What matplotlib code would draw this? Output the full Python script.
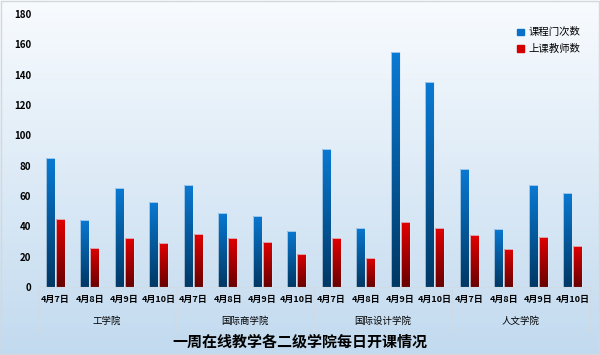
import numpy as np
import matplotlib.pyplot as plt
from matplotlib.colors import LinearSegmentedColormap
from matplotlib.lines import Line2D

plt.rcParams['font.family'] = ['Noto Sans CJK SC', 'DejaVu Sans']

# data
colleges = ['工学院', '国际商学院', '国际设计学院', '人文学院']
dates = ['4月7日', '4月8日', '4月9日', '4月10日']
courses = [85, 44, 65, 56, 67, 49, 47, 37, 91, 39, 155, 135, 78, 38, 67, 62]
teachers = [45, 26, 32, 29, 35, 32, 30, 22, 32, 19, 43, 39, 34, 25, 33, 27]
series_names = ['课程门次数', '上课教师数']

fig = plt.figure(figsize=(6, 3.55), dpi=100)

# background gradient
bg = fig.add_axes([0, 0, 1, 1], zorder=-10)
bg_cmap = LinearSegmentedColormap.from_list('bg', ['#c2daef', '#f8fbfe'])
bg.imshow(np.linspace(0, 1, 256).reshape(-1, 1), cmap=bg_cmap, aspect='auto',
          origin='lower', extent=(0, 1, 0, 1))
bg.set_xlim(0, 1)
bg.set_ylim(0, 1)
bg.axis('off')
bg.add_patch(plt.Rectangle((0.002, 0.003), 0.996, 0.994, fill=False,
                           edgecolor='#d4d8dc', lw=1))

ax = fig.add_axes([0.0633, 0.1915, 0.92, 0.769])
ax.patch.set_alpha(0)

blue_cmap = LinearSegmentedColormap.from_list('b', ['#003864', '#0a7bd6'])
red_cmap = LinearSegmentedColormap.from_list('r', ['#680000', '#e80000'])

x = np.arange(len(courses))
w = 0.25
off = 0.145
grad = np.linspace(0, 1, 256).reshape(-1, 1)
for vals, dx, cmap in [(courses, -off, blue_cmap), (teachers, off, red_cmap)]:
    bars = ax.bar(x + dx, vals, width=w, color='none', edgecolor='#dce9f6',
                  linewidth=0.5, zorder=3)
    for b in bars:
        x0 = b.get_x()
        h = b.get_height()
        im = ax.imshow(grad, cmap=cmap, aspect='auto', origin='lower',
                       extent=(x0 - 0.05, x0 + b.get_width() + 0.05, 0, h + 2),
                       zorder=2)
        im.set_clip_path(b)

ax.set_xlim(-0.5, len(courses) - 0.5)
ax.set_ylim(0, 180)
ax.set_yticks(range(0, 181, 20))
ax.tick_params(axis='y', length=0, labelsize=7, pad=5)
for t in ax.get_yticklabels():
    t.set_fontweight('bold')
ax.set_xticks([])
for s in ax.spines.values():
    s.set_visible(False)

# category axis
trans = ax.get_xaxis_transform()
sep_col = '#cfdbe6'
ax.add_line(Line2D([-0.5, len(courses) - 0.5], [0, 0], color=sep_col, lw=0.8,
                   transform=trans, clip_on=False))
for i in range(len(colleges) + 1):
    xs = i * len(dates) - 0.5
    ax.add_line(Line2D([xs, xs], [0, -0.16], color=sep_col, lw=0.8,
                       transform=trans, clip_on=False))
for i, c in enumerate(colleges):
    for j, d in enumerate(dates):
        ax.text(i * len(dates) + j, -0.044, d, transform=trans, ha='center',
                va='center', fontsize=6.5, fontweight='bold')
    ax.text(i * len(dates) + 1.5, -0.125, c, transform=trans, ha='center',
            va='center', fontsize=6.8)

# legend
handles = [plt.Rectangle((0, 0), 1, 1, color='#0a70c8'),
           plt.Rectangle((0, 0), 1, 1, color='#d40000')]
leg = ax.legend(handles, series_names, loc='upper right',
                bbox_to_anchor=(1.0, 0.985), frameon=False, fontsize=7.5,
                handlelength=0.6, handleheight=0.6, handletextpad=0.5,
                labelspacing=0.65)

fig.text(0.5, 0.037, '一周在线教学各二级学院每日开课情况', ha='center', va='center',
         fontsize=10.8, fontweight='bold')

fig.savefig('out.png', dpi=100)
